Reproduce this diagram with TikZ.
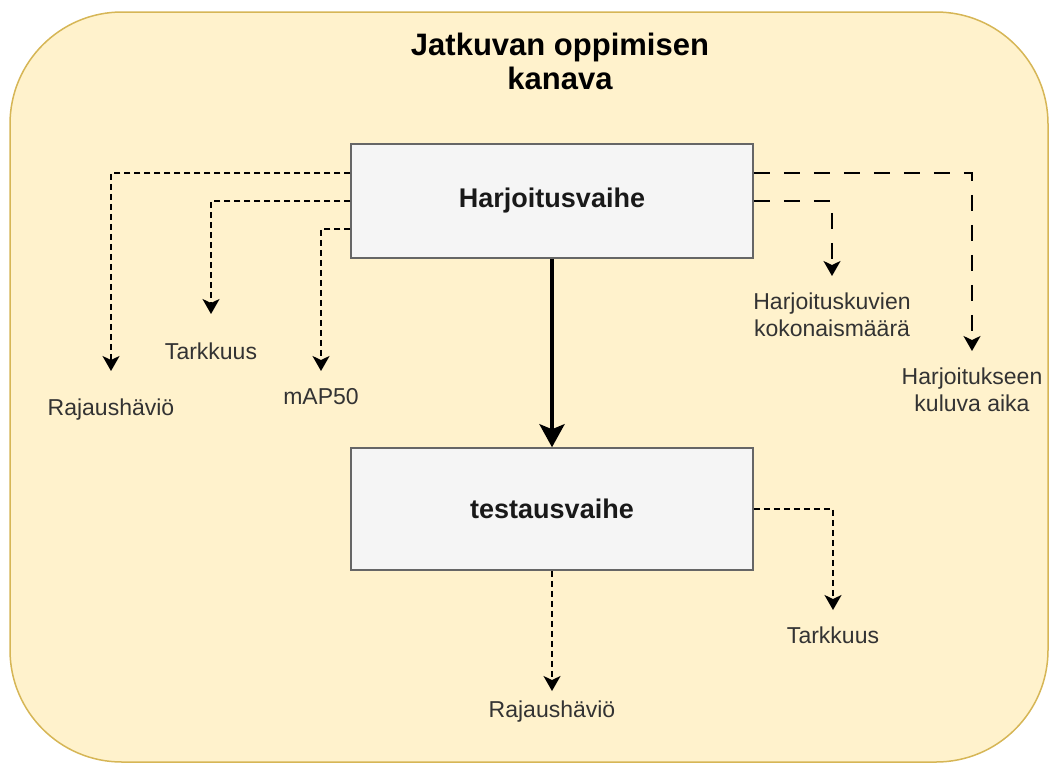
\documentclass[tikz,border=0pt]{standalone}
\usepackage{fontspec}
\setmainfont{Liberation Sans}
\usetikzlibrary{arrows.meta}
\definecolor{panelfill}{HTML}{FFF2CC}
\definecolor{panelline}{HTML}{D6B656}
\definecolor{boxfill}{HTML}{F5F5F5}
\definecolor{boxline}{HTML}{666666}
\definecolor{labeltext}{HTML}{333333}
\begin{document}
\begin{tikzpicture}[x=1pt,y=-1pt,
  panel/.style={draw=panelline,fill=panelfill,line width=1.5pt,rounded corners=112pt},
  stagebox/.style={draw=boxline,fill=boxfill,line width=1.5pt,minimum width=402pt,inner sep=0pt,
    font=\fontsize{27}{31}\selectfont\bfseries,text=black!90},
  metric/.style={text=labeltext,align=center,inner sep=0pt,font=\fontsize{23}{27}\selectfont},
  tip/.style={-{Stealth[length=15pt,width=17pt,inset=4pt]}},
  shortdash/.style={tip,line width=2pt,dash pattern=on 6pt off 4pt},
  longdash/.style={tip,line width=2pt,dash pattern=on 16pt off 14pt},
  flow/.style={line width=4pt,-{Stealth[length=23pt,width=25pt,inset=5pt]}}
]
\useasboundingbox (0,0) rectangle (1051,764);
\draw[panel] (10,12) rectangle (1048,762);

\node[align=center,font=\fontsize{31}{34}\selectfont\bfseries] (title) at (560,61) {Jatkuvan oppimisen\\kanava};

\node[stagebox,minimum height=114pt] (harj) at (552,201) {Harjoitusvaihe};
\node[stagebox,minimum height=122pt] (test) at (552,509) {testausvaihe};

% arrow tips in front of the metric labels
\coordinate (tRaj1) at (111,371);
\coordinate (tTar1) at (211,314);
\coordinate (tMap) at (321,371);
\coordinate (tKuv) at (832,276);
\coordinate (tAika) at (972,351);
\coordinate (tTar2) at (833,610);
\coordinate (tRaj2) at (552,691);

\node[metric] (lRaj1) at (111,410) {Rajaushäviö};
\node[metric] (lTar1) at (211,351) {Tarkkuus};
\node[metric] (lMap) at (321,397) {mAP50};
\node[metric] (lKuv) at (832,315) {Harjoituskuvien\\kokonaismäärä};
\node[metric] (lAika) at (972,390) {Harjoitukseen\\kuluva aika};
\node[metric] (lTar2) at (833,635) {Tarkkuus};
\node[metric] (lRaj2) at (552,712) {Rajaushäviö};

% training-stage metrics
\draw[shortdash] ([yshift=28pt]harj.west) -| (tRaj1);
\draw[shortdash] (harj.west) -| (tTar1);
\draw[shortdash] ([yshift=-28pt]harj.west) -| (tMap);
\draw[longdash] ([yshift=28pt]harj.east) -| (tAika);
\draw[longdash] (harj.east) -| (tKuv);

% main flow
\draw[flow] (harj.south) -- (test.north);

% test-stage metrics
\draw[shortdash] (test.east) -| (tTar2);
\draw[shortdash] (test.south) -- (tRaj2);
\end{tikzpicture}
\end{document}
